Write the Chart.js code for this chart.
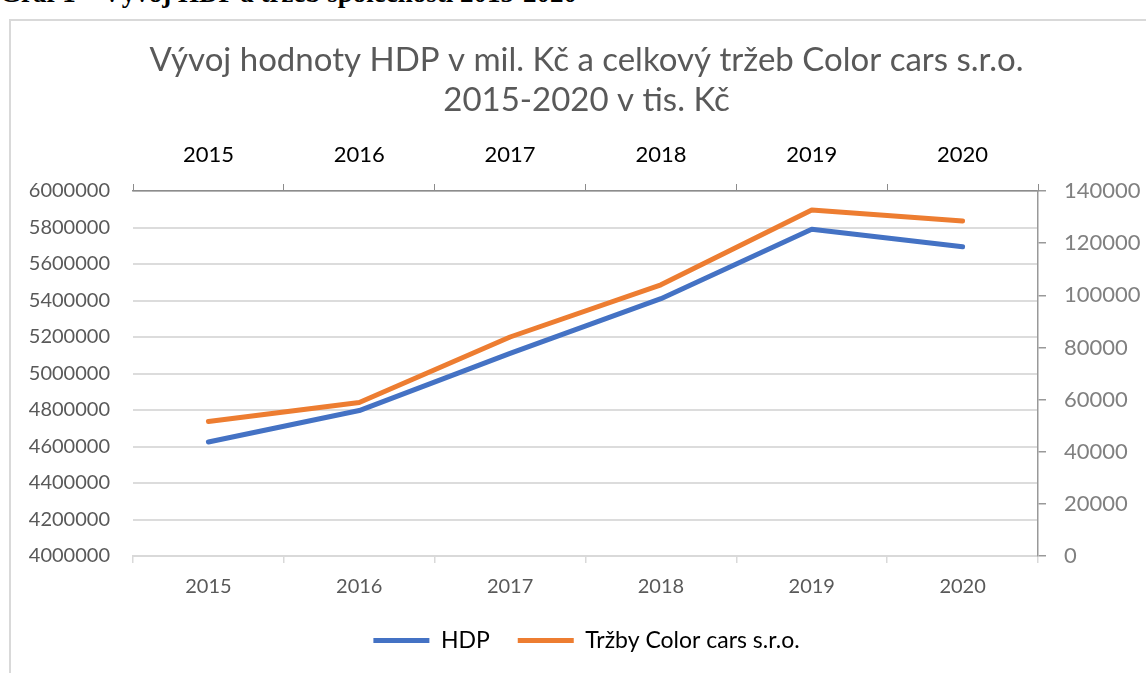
<!DOCTYPE html>
<html>
<head>
<meta charset="utf-8">
<script src="https://cdn.jsdelivr.net/npm/chart.js@4.4.1/dist/chart.umd.min.js"></script>
<style>
  html, body { margin: 0; padding: 0; background: #fff; overflow: hidden; }
  #head {
    position: absolute; left: 0; top: -20px; white-space: nowrap;
    font: bold 27px "Liberation Serif", serif; line-height: 1; color: #000;
  }
  #frame {
    position: absolute; left: 9px; top: 19px; width: 1200px; height: 700px;
    border: 2px solid #d9d9d9; box-sizing: border-box;
  }
  #chart { position: absolute; left: 0; top: 0; }
</style>
</head>
<body>
<div id="head">Graf 1 – Vývoj HDP a tržeb společnosti 2015-2020</div>
<div id="frame"></div>
<canvas id="chart" width="1146" height="673"></canvas>
<script>
// data
var years = ['2015', '2016', '2017', '2018', '2019', '2020'];
var hdp = [4625000, 4797000, 5110000, 5410000, 5790000, 5694000];
var trzby = [51600, 58900, 84000, 104000, 132700, 128500];

var chartTitle = ['Vývoj hodnoty HDP v mil. Kč a celkový tržeb Color cars s.r.o.', '2015-2020 v tis. Kč'];
var seriesNames = ['HDP', 'Tržby Color cars s.r.o.'];

var font = 'Lato';
var plain = function (v) { return String(v); };

new Chart(document.getElementById('chart'), {
    type: 'line',
    data: {
        labels: years,
        datasets: [{
            label: seriesNames[0],
            data: hdp,
            yAxisID: 'y',
            borderColor: '#4472C4',
            backgroundColor: '#4472C4',
            borderWidth: 5,
            borderCapStyle: 'round',
            borderJoinStyle: 'round',
            pointRadius: 0,
            tension: 0
        }, {
            label: seriesNames[1],
            data: trzby,
            yAxisID: 'y2',
            borderColor: '#ED7D31',
            backgroundColor: '#ED7D31',
            borderWidth: 5,
            borderCapStyle: 'round',
            borderJoinStyle: 'round',
            pointRadius: 0,
            tension: 0
        }]
    },
    options: {
        responsive: false,
        animation: false,
        devicePixelRatio: 1,
        layout: { padding: { top: 20, left: 27, right: 0, bottom: 11 } },
        plugins: {
            tooltip: { enabled: false },
            title: {
                display: true,
                text: chartTitle,
                color: '#595959',
                font: { family: font, size: 33, weight: 'normal', lineHeight: 40 / 33 },
                padding: { top: 20, bottom: 0 }
            },
            legend: {
                position: 'bottom',
                labels: {
                    usePointStyle: true,
                    pointStyle: 'line',
                    pointStyleWidth: 56,
                    color: '#000',
                    padding: 28,
                    font: { family: font, size: 23 }
                }
            }
        },
        scales: {
            x: {
                position: 'bottom',
                offset: true,
                afterFit: function (s) { s.height = 45; },
                grid: { offset: true, drawOnChartArea: false, tickLength: 7, color: '#d9d9d9', lineWidth: 1.5 },
                border: { color: '#d9d9d9', width: 2 },
                ticks: { color: '#595959', padding: 12, font: { family: font, size: 20 } }
            },
            x2: {
                type: 'category',
                position: 'top',
                offset: true,
                afterFit: function (s) { s.height = 71; },
                grid: { offset: true, drawOnChartArea: false, tickLength: 7, color: '#8c8c8c', lineWidth: 1 },
                border: { color: '#8c8c8c', width: 1.5 },
                ticks: { color: '#000', padding: 16, font: { family: font, size: 22 } }
            },
            y: {
                position: 'left',
                min: 4000000,
                max: 6000000,
                afterFit: function (s) { s.width = 106; },
                grid: { drawTicks: false, color: '#dcdcdc', lineWidth: 2 },
                border: { display: false },
                ticks: { stepSize: 200000, callback: plain, color: '#595959', padding: 23, font: { family: font, size: 20 } }
            },
            y2: {
                position: 'right',
                min: 0,
                max: 140000,
                afterFit: function (s) { s.width = 108; },
                grid: { drawOnChartArea: false, tickLength: 8, color: '#999', lineWidth: 1.5 },
                border: { color: '#999', width: 1.5 },
                ticks: { stepSize: 20000, callback: plain, color: '#808080', padding: 18, font: { family: font, size: 22 } }
            }
        }
    }
});
</script>
</body>
</html>
